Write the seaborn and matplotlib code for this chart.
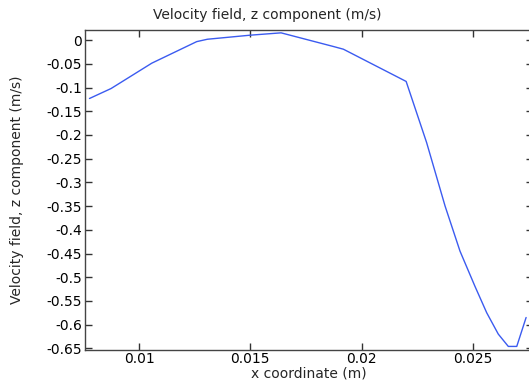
import numpy as np
import pandas as pd
import seaborn as sns
import matplotlib.pyplot as plt

# dados (x em m, velocidade z em m/s)
x_coord = [0.00777, 0.00874, 0.01057, 0.01259, 0.01307, 0.01500, 0.01638,
           0.01873, 0.01918, 0.02200, 0.02292, 0.02375, 0.02442, 0.02509,
           0.02562, 0.02614, 0.02659, 0.02697, 0.02739]
vel_z = [-0.123, -0.102, -0.0485, -0.003, 0.002, 0.0106, 0.0155,
         -0.0133, -0.019, -0.087, -0.216, -0.350, -0.445, -0.519,
         -0.575, -0.620, -0.646, -0.646, -0.585]

yticks = np.round(np.arange(0, -0.651, -0.05), 2)
xticks = [0.01, 0.015, 0.02, 0.025]

df = pd.DataFrame({'x': x_coord, 'w': vel_z})

sns.set_style('ticks')
plt.rcParams['font.family'] = ['DejaVu Sans']

fig = plt.figure(figsize=(5.29, 3.85), dpi=100)
ax = fig.add_axes([85 / 529, 1 - 349.5 / 385, 448 / 529, (349.5 - 30) / 385])

sns.lineplot(data=df, x='x', y='w', sort=False, color='#3b5bf0', linewidth=1, ax=ax)

ax.set_xlim(0.00757, 0.0277)
ax.set_ylim(-0.6525, 0.0215)
ax.set_xticks(xticks)
ax.set_xticklabels([f'{t:g}' for t in xticks])
ax.set_yticks(yticks)
ax.set_yticklabels(['0' if t == 0 else f'{t:g}' for t in yticks])

ax.tick_params(direction='in', length=5, width=1, labelsize=10, pad=2,
               top=True, right=True, colors='#333333', labelcolor='black')
for s in ax.spines.values():
    s.set_color('#444444')
    s.set_linewidth(1)

ax.set_xlabel('x coordinate (m)', fontsize=10, labelpad=0)
ax.set_ylabel('Velocity field, z component (m/s)', fontsize=10, labelpad=16)
fig.text(0.505, 0.96, 'Velocity field, z component (m/s)', ha='center', va='center', fontsize=10)

fig.savefig('out.png', dpi=100)
